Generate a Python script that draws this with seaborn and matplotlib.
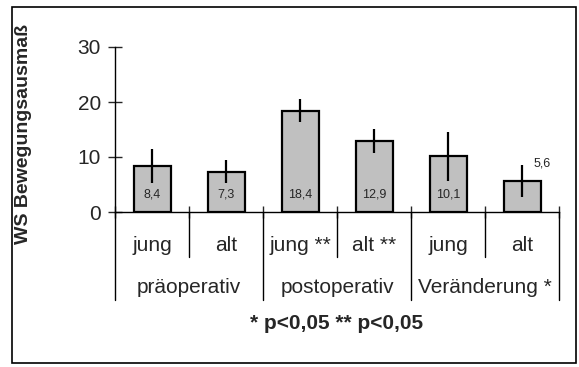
import seaborn as sns
import numpy as np
import pandas as pd
import matplotlib.pyplot as plt
from matplotlib.patches import Rectangle
from matplotlib.transforms import blended_transform_factory

# Werte aus der Grafik
slots = ["j_pre", "a_pre", "j_post", "a_post", "j_diff", "a_diff"]
untergruppen = ["jung", "alt", "jung **", "alt **", "jung", "alt"]
gruppen = ["präoperativ", "postoperativ", "Veränderung *"]
mittelwerte = [8.4, 7.3, 18.4, 12.9, 10.1, 5.6]
fehler = [3.1, 2.1, 2.1, 2.2, 4.5, 2.9]
wert_labels = ["8,4", "7,3", "18,4", "12,9", "10,1", "5,6"]

sns.set_style("white")
plt.rcParams["font.family"] = ["Liberation Sans", "DejaVu Sans"]

df = pd.DataFrame({"slot": slots, "wert": mittelwerte})

fig = plt.figure(figsize=(5.79, 3.67), dpi=100)
ax = fig.add_axes([115 / 579, 1 - 212 / 367, 444 / 579, 165 / 367])

sns.barplot(data=df, x="slot", y="wert", color="#C0C0C0", saturation=1,
            edgecolor="black", linewidth=1.6, width=0.5, errorbar=None, ax=ax)
ax.errorbar(np.arange(6), mittelwerte, yerr=fehler, fmt="none",
            ecolor="black", elinewidth=1.6, capsize=0)

# Werte in den Balken
for i, lab in enumerate(wert_labels):
    if i == 5:
        ax.text(5.27, 8.9, lab, ha="center", va="center", fontsize=9)
    else:
        ax.text(i, 3.1, lab, ha="center", va="center", fontsize=9)

ax.set_xlim(-0.5, 5.5)
ax.set_ylim(0, 30)
ax.set_yticks([0, 10, 20, 30])
ax.tick_params(axis="y", direction="inout", length=10, width=1, labelsize=15, pad=5, left=True)
ax.set_xticks(range(6))
ax.set_xticklabels(untergruppen, fontsize=15)
ax.tick_params(axis="x", length=0, pad=17)
ax.set_xticks(np.arange(-0.5, 6, 1), minor=True)
ax.tick_params(axis="x", which="minor", direction="inout", length=8, width=1, bottom=True)
ax.set_xlabel("")
ax.set_ylabel("WS Bewegungsausmaß", fontsize=14, fontweight="bold")
ax.yaxis.label.set_va("center")
ax.yaxis.set_label_coords(-0.207, 0.475)

sns.despine(ax=ax)
for s in ["left", "bottom"]:
    ax.spines[s].set_color("black")
    ax.spines[s].set_linewidth(1)

# Trennlinien und Gruppenbeschriftung
trans = blended_transform_factory(ax.transData, ax.transAxes)
for b in [0.5, 2.5, 4.5]:
    ax.plot([b, b], [0, -0.273], color="black", lw=1, transform=trans, clip_on=False)
for b in [-0.5, 1.5, 3.5, 5.5]:
    ax.plot([b, b], [0, -0.533], color="black", lw=1, transform=trans, clip_on=False)
for k, g in enumerate(gruppen):
    ax.text(2 * k + 0.5, -0.455, g, ha="center", va="center", fontsize=15, transform=trans)

ax.text(0.5, -0.673, "* p<0,05 ** p<0,05", ha="center", va="center", fontsize=15,
        fontweight="bold", transform=ax.transAxes)

fig.patches.append(Rectangle((11.5 / 579, 4 / 367), 564.5 / 579, 356 / 367,
                             transform=fig.transFigure, fill=False,
                             edgecolor="black", linewidth=1.2))

fig.savefig("out.png", dpi=100)
